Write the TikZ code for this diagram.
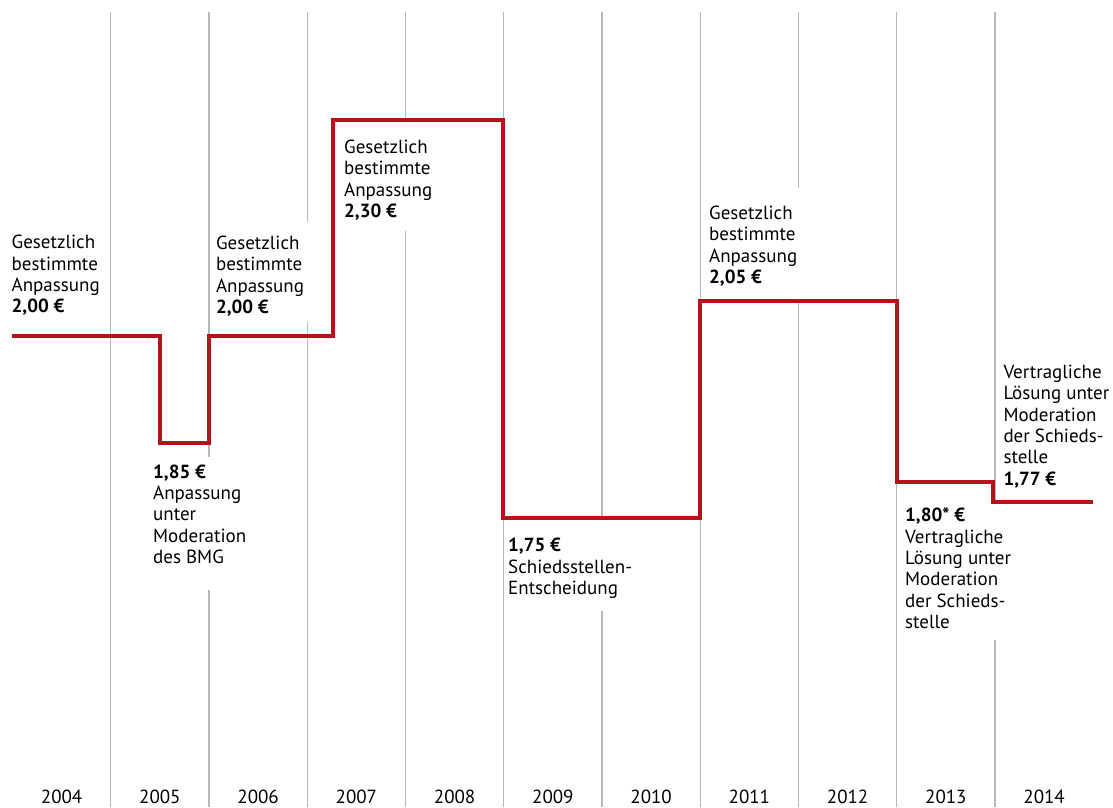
\documentclass[tikz,border=0pt]{standalone}
\usepackage{fontspec}
\setmainfont{PT Sans}
\definecolor{chartred}{HTML}{B5121B}
\definecolor{gridgray}{HTML}{B8B8B8}
\tikzset{
  grid/.style={draw=gridgray, line width=1.4pt},
  stepline/.style={draw=chartred, line width=4.6pt, line join=miter, line cap=butt},
  lbl/.style={anchor=north west, inner sep=0pt, align=left, text=black,
              font=\fontsize{19}{21.3}\selectfont},
  yr/.style={anchor=base, inner sep=0pt, text=black, font=\fontsize{19}{21.3}\selectfont}
}
\begin{document}
\begin{tikzpicture}[x=1pt,y=-1pt]
\useasboundingbox (0,0) rectangle (1113,807);
% grid lines (gaps where labels sit)
\coordinate (g1t) at (110.75,12);  \coordinate (g1b) at (110.75,807);
\coordinate (g2t) at (209,12);     \coordinate (g2a) at (209,456.7); \coordinate (g2c) at (209,590); \coordinate (g2b) at (209,807);
\coordinate (g3t) at (307.25,12);  \coordinate (g3a) at (307.25,221.7); \coordinate (g3c) at (307.25,321.7); \coordinate (g3b) at (307.25,807);
\coordinate (g4t) at (405.5,12);   \coordinate (g4a) at (405.5,120); \coordinate (g4c) at (405.5,231); \coordinate (g4b) at (405.5,807);
\coordinate (g5t) at (503.75,12);  \coordinate (g5b) at (503.75,807);
\coordinate (g6t) at (602,12);     \coordinate (g6a) at (602,518); \coordinate (g6c) at (602,611); \coordinate (g6b) at (602,807);
\coordinate (g7t) at (700.25,12);  \coordinate (g7b) at (700.25,807);
\coordinate (g8t) at (798.5,12);   \coordinate (g8a) at (798.5,188); \coordinate (g8c) at (798.5,301); \coordinate (g8b) at (798.5,807);
\coordinate (g9t) at (896.75,12);  \coordinate (g9b) at (896.75,807);
\coordinate (g10t) at (995,12);    \coordinate (g10a) at (995,502); \coordinate (g10c) at (995,640); \coordinate (g10b) at (995,807);
\draw[grid] (g1t) -- (g1b);
\draw[grid] (g2t) -- (g2a) (g2c) -- (g2b);
\draw[grid] (g3t) -- (g3a) (g3c) -- (g3b);
\draw[grid] (g4t) -- (g4a) (g4c) -- (g4b);
\draw[grid] (g5t) -- (g5b);
\draw[grid] (g6t) -- (g6a) (g6c) -- (g6b);
\draw[grid] (g7t) -- (g7b);
\draw[grid] (g8t) -- (g8a) (g8c) -- (g8b);
\draw[grid] (g9t) -- (g9b);
\draw[grid] (g10t) -- (g10a) (g10c) -- (g10b);
% step line
\coordinate (s0) at (12,336);
\coordinate (s1) at (160,336);
\coordinate (s2) at (160,443);
\coordinate (s3) at (209,443);
\coordinate (s4) at (209,336);
\coordinate (s5) at (333,336);
\coordinate (s6) at (333,120);
\coordinate (s7) at (503,120);
\coordinate (s8) at (503,518);
\coordinate (s9) at (700,518);
\coordinate (s10) at (700,301);
\coordinate (s11) at (897,301);
\coordinate (s12) at (897,482);
\coordinate (s13) at (993,482);
\coordinate (s14) at (993,502);
\coordinate (s15) at (1093,502);
\draw[stepline] (s0) -- (s1) -- (s2) -- (s3) -- (s4) -- (s5) -- (s6) -- (s7) -- (s8) -- (s9) -- (s10) -- (s11) -- (s12) -- (s13) -- (s14) -- (s15);
% labels
\node[lbl] (la) at (11.5,233.6) {\strut Gesetzlich\\bestimmte\\Anpassung\\\textbf{2,00 €}};
\node[lbl] (lb) at (153,463.1) {\strut\textbf{1,85 €}\\Anpassung\\unter\\Moderation\\des BMG};
\node[lbl] (lc) at (215.8,234.4) {\strut Gesetzlich\\bestimmte\\Anpassung\\\textbf{2,00 €}};
\node[lbl] (ld) at (344,138.4) {\strut Gesetzlich\\bestimmte\\Anpassung\\\textbf{2,30 €}};
\node[lbl] (le) at (508,536.8) {\strut\textbf{1,75 €}\\Schiedsstellen-\\Entscheidung};
\node[lbl] (lf) at (709,204.4) {\strut Gesetzlich\\bestimmte\\Anpassung\\\textbf{2,05 €}};
\node[lbl] (lg) at (905,506.8) {\strut\textbf{1,80* €}\\Vertragliche\\Lösung unter\\Moderation\\der Schieds-\\stelle};
\node[lbl] (lh) at (1003.3,363.4) {\strut Vertragliche\\Lösung unter\\Moderation\\der Schieds-\\stelle\\\textbf{1,77 €}};
% years
\foreach \yy [count=\i from 0] in {2004,2005,2006,2007,2008,2009,2010,2011,2012,2013,2014}{
  \node[yr] (y\yy) at ({12.5+98.25*(\i+0.5)},803.8) {\yy};
}
\end{tikzpicture}
\end{document}
